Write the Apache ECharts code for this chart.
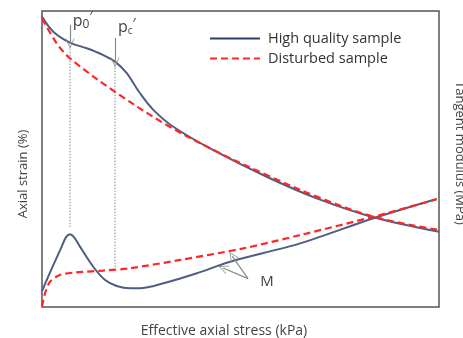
<!DOCTYPE html>
<html><head><meta charset="utf-8">
<script src="https://cdn.jsdelivr.net/npm/echarts@6/dist/echarts.min.js"></script>
<style>html,body{margin:0;padding:0;background:#fff}#c{width:463px;height:338px}</style>
</head><body><div id="c"></div>
<script>
// Effective axial stress (relative units 0-100)
const hqStrainX = [0, 2.85, 7.05, 11.26, 15.44, 18.39, 21.34, 24.69, 28.04, 33.07, 43.15, 56.6, 69.2, 83.5, 100];
const hqStrainY = [98.1, 93.0, 89.3, 87.4, 85.1, 82.9, 79.0, 72.2, 66.6, 60.9, 53.0, 44.0, 36.7, 30.3, 25.4];
const dsStrainX = [0, 3.7, 7.05, 18.4, 31.4, 44.0, 56.6, 69.2, 83.5, 100];
const dsStrainY = [97.5, 89.1, 84.0, 72.7, 61.5, 52.5, 44.6, 37.3, 30.5, 26.0];
const hqModX = [0, 2.0, 4.96, 6.05, 7.05, 8.06, 9.57, 12.9, 15.9, 18.8, 22.2, 24.7, 30.6, 39.0, 47.4, 65.0, 83.5, 99.4];
const hqModY = [5.4, 11.6, 20.4, 23.6, 24.6, 23.6, 20.4, 13.6, 9.1, 7.1, 6.3, 6.3, 8.0, 11.4, 15.3, 21.5, 30.0, 36.5];
const dsModX = [0, 0.76, 2.0, 4.5, 7.9, 15.4, 22.2, 34.8, 50.7, 65.0, 83.5, 99.4];
const dsModY = [0.1, 4.6, 8.5, 10.8, 11.6, 12.3, 13.1, 15.9, 19.8, 24.3, 30.5, 36.4];
// annotations
const p0X = 7.05, p0Top = 89.3, p0Bottom = 27.0, p0ArrowFrom = 95.3;
const pcX = 18.39, pcTop = 82.9, pcBottom = 13.2, pcArrowFrom = 90.9;
const mLabel = [56.7, 8.4];
const mArrowStart = [51.9, 9.6];
const mArrowEnds = [[47.9, 17.2], [45.6, 13.2]];
const seriesNames = ['High quality sample', 'Disturbed sample'];

const zip = (xs, ys) => xs.map((x, i) => [x, ys[i]]);
const solidColor = '#4f5e80';
const redColor = '#ff2626';
const grayArrow = '#8a8a8a';
const chevron = 'path://M0,0 L6,11 L5,11 L0,2 L-5,11 L-6,11 Z';

const chart = echarts.init(document.getElementById('c'));
chart.setOption({
  animation: false,
  grid: {left: 42, top: 11, width: 397, height: 296, show: true, borderColor: '#555', borderWidth: 1.5,
         containLabel: false, outerBoundsMode: 'none'},
  legend: {
    orient: 'vertical', left: 209, top: 31, padding: 0, itemWidth: 50, itemHeight: 14, itemGap: 5,
    itemStyle: {opacity: 0},
    textStyle: {fontFamily: 'Open Sans', fontSize: 14.5, color: '#333', padding: [0, 0, 0, 3]},
    data: [
      {name: seriesNames[0], lineStyle: {color: '#2f3d6c', width: 2}},
      {name: seriesNames[1]}
    ]
  },
  xAxis: {
    type: 'value', min: 0, max: 100,
    axisLine: {show: false}, axisTick: {show: false}, axisLabel: {show: false}, splitLine: {show: false},
    name: 'Effective axial stress (kPa)', nameLocation: 'middle', nameGap: 17,
    nameTextStyle: {fontFamily: 'Open Sans', fontSize: 14, color: '#444', padding: [0, 33, 0, 0]}
  },
  yAxis: [{
    type: 'value', min: 0, max: 100,
    axisLine: {show: false}, axisTick: {show: false}, axisLabel: {show: false}, splitLine: {show: false},
    name: 'Axial strain (%)', nameLocation: 'middle', nameGap: 12, nameRotate: 90,
    nameTextStyle: {fontFamily: 'Open Sans', fontSize: 13, color: '#444', padding: [0, 30, 0, 0]}
  }, {
    type: 'value', min: 0, max: 100, position: 'right',
    axisLine: {show: false}, axisTick: {show: false}, axisLabel: {show: false}, splitLine: {show: false},
    name: 'Tangent modulus (MPa)', nameLocation: 'middle', nameGap: 14, nameRotate: -90,
    nameTextStyle: {fontFamily: 'Open Sans', fontSize: 13, color: '#444', padding: [0, 12, 0, 0]}
  }],
  series: [
    {name: seriesNames[0], type: 'line', yAxisIndex: 0, data: zip(hqStrainX, hqStrainY), smooth: 0.35, symbol: 'none',
     lineStyle: {color: solidColor, width: 2}, itemStyle: {color: solidColor}, z: 3},
    {name: seriesNames[1], type: 'line', yAxisIndex: 0, data: zip(dsStrainX, dsStrainY), smooth: 0.35, symbol: 'none',
     lineStyle: {color: redColor, width: 2.2, type: [7, 4]}, itemStyle: {color: redColor}, z: 4},
    {name: seriesNames[0], type: 'line', yAxisIndex: 1, data: zip(hqModX, hqModY), smooth: 0.3, symbol: 'none',
     lineStyle: {color: solidColor, width: 2}, itemStyle: {color: solidColor}, z: 3},
    {name: seriesNames[1], type: 'line', yAxisIndex: 1, data: zip(dsModX, dsModY), smooth: 0.3, symbol: 'none',
     lineStyle: {color: redColor, width: 2.2, type: [7, 4]}, itemStyle: {color: redColor}, z: 4},
    {name: 'p0 guide', type: 'line', yAxisIndex: 0, data: [[p0X, p0Top], [p0X, p0Bottom]], symbol: 'none',
     lineStyle: {color: '#888', width: 1, type: [1.5, 1.5]}, silent: true, z: 1},
    {name: 'pc guide', type: 'line', yAxisIndex: 0, data: [[pcX, pcTop], [pcX, pcBottom]], symbol: 'none',
     lineStyle: {color: '#888', width: 1, type: [1.5, 1.5]}, silent: true, z: 1},
    {name: 'annot', type: 'line', yAxisIndex: 0, data: [], silent: true,
     markLine: {
       silent: true, animation: false,
       symbol: ['none', chevron], symbolSize: [9, 10],
       lineStyle: {color: grayArrow, width: 1.2, type: 'solid'},
       label: {show: false},
       data: [
         [{coord: [p0X, p0ArrowFrom]}, {coord: [p0X, p0Top - 0.3]}],
         [{coord: [pcX, pcArrowFrom]}, {coord: [pcX, pcTop - 0.3]}],
         [{coord: mArrowStart}, {coord: mArrowEnds[0]}],
         [{coord: mArrowStart}, {coord: mArrowEnds[1]}]
       ]
     },
     markPoint: {
       silent: true, symbol: 'circle', symbolSize: 0,
       label: {show: true, position: 'inside', fontFamily: 'Open Sans', color: '#444'},
       data: [
         {coord: [p0X + 3.2, 96.5], label: {formatter: '{p|p}{s|0}{q|′}',
           rich: {p: {fontSize: 16, color: '#444', fontFamily: 'Open Sans'}, s: {fontSize: 12, color: '#444', padding: [7, 0, 0, 0], fontFamily: 'Open Sans'}, q: {fontSize: 14, color: '#444', padding: [0, 0, 8, 0], fontFamily: 'Open Sans'}}}},
         {coord: [pcX + 3.0, 94.4], label: {formatter: '{p|p}{s|c}{q|′}',
           rich: {p: {fontSize: 16, color: '#444', fontFamily: 'Open Sans'}, s: {fontSize: 10, color: '#444', padding: [7, 0, 0, 0], fontFamily: 'Open Sans'}, q: {fontSize: 14, color: '#444', padding: [0, 0, 8, 0], fontFamily: 'Open Sans'}}}},
         {coord: mLabel, label: {formatter: 'M', fontSize: 15, color: '#444'}}
       ]
     }}
  ]
});
</script></body></html>
